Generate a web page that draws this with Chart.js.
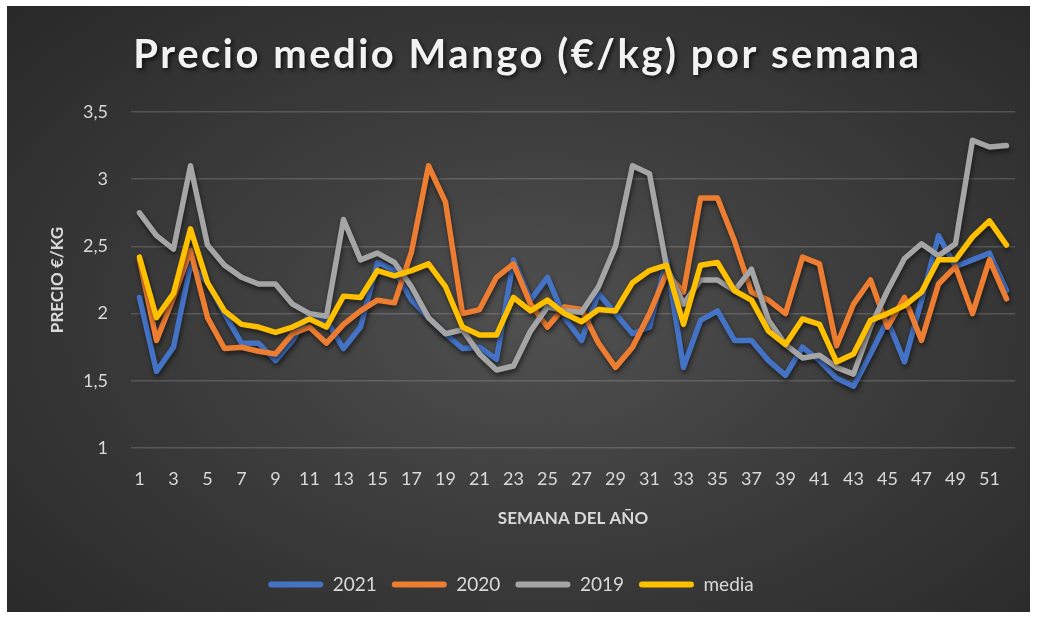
<!DOCTYPE html>
<html lang="es">
<head>
<meta charset="utf-8">
<title>Precio medio Mango</title>
<script src="https://cdn.jsdelivr.net/npm/chart.js@4/dist/chart.umd.min.js"></script>
<style>
  html, body { margin: 0; padding: 0; background: #ffffff; }
  #panel {
    position: absolute;
    left: 7px;
    top: 6px;
    width: 1023px;
    height: 606px;
    background: radial-gradient(ellipse 70% 75% at 52% 52%, #505050 0%, #3d3d3d 45%, #292929 100%);
  }
</style>
</head>
<body>
<div id="panel"><canvas id="mangoChart"></canvas></div>
<script>
// --- Datos ---
const titulo = 'Precio medio Mango (€/kg) por semana';
const semanas = ['1','2','3','4','5','6','7','8','9','10','11','12','13','14','15','16','17','18','19','20',
  '21','22','23','24','25','26','27','28','29','30','31','32','33','34','35','36','37','38','39','40',
  '41','42','43','44','45','46','47','48','49','50','51','52'];

const precios2021 = [2.12, 1.57, 1.75, 2.36, 2.23, 2.00, 1.78, 1.78, 1.65, 1.80, 2.00, 1.95, 1.74,
  1.90, 2.38, 2.32, 2.10, 1.97, 1.85, 1.74, 1.75, 1.66, 2.40, 2.10, 2.27, 1.97,
  1.80, 2.15, 2.00, 1.85, 1.90, 2.40, 1.60, 1.95, 2.02, 1.80, 1.80, 1.65, 1.54,
  1.75, 1.65, 1.52, 1.46, 1.70, 1.95, 1.64, 2.10, 2.58, 2.35, 2.40, 2.45, 2.17];

const precios2020 = [2.40, 1.80, 2.12, 2.47, 1.97, 1.74, 1.75, 1.72, 1.70, 1.85, 1.90, 1.78, 1.92,
  2.02, 2.10, 2.08, 2.46, 3.10, 2.83, 2.00, 2.03, 2.27, 2.37, 2.07, 1.90, 2.05,
  2.03, 1.78, 1.60, 1.75, 2.00, 2.30, 2.16, 2.86, 2.86, 2.54, 2.16, 2.10, 2.00,
  2.42, 2.37, 1.76, 2.07, 2.25, 1.90, 2.12, 1.80, 2.22, 2.35, 2.00, 2.40, 2.11];

const precios2019 = [2.75, 2.58, 2.48, 3.10, 2.51, 2.36, 2.27, 2.22, 2.22, 2.07, 2.00, 1.98, 2.70,
  2.40, 2.45, 2.38, 2.20, 1.97, 1.85, 1.88, 1.70, 1.58, 1.61, 1.87, 2.05, 2.02,
  2.01, 2.20, 2.50, 3.10, 3.04, 2.35, 2.07, 2.25, 2.25, 2.17, 2.33, 1.95, 1.77,
  1.67, 1.69, 1.60, 1.55, 1.90, 2.17, 2.41, 2.52, 2.43, 2.52, 3.29, 3.24, 3.25];

const preciosMedia = [2.42, 1.97, 2.15, 2.63, 2.23, 2.02, 1.92, 1.90, 1.86, 1.90, 1.96, 1.90, 2.13,
  2.12, 2.32, 2.28, 2.32, 2.37, 2.20, 1.90, 1.84, 1.84, 2.12, 2.02, 2.10, 2.00,
  1.94, 2.03, 2.02, 2.23, 2.32, 2.36, 1.92, 2.36, 2.38, 2.17, 2.10, 1.87, 1.77,
  1.96, 1.92, 1.64, 1.70, 1.95, 2.00, 2.06, 2.16, 2.40, 2.40, 2.57, 2.69, 2.51];

const textoEjes = '#d9d9d9';
const fuente = 'Lato, "Open Sans", sans-serif';

// titulo con espaciado de letras y sombra
const tituloPlugin = {
  id: 'tituloPlugin',
  afterDraw(chart) {
    const ctx = chart.ctx;
    ctx.save();
    ctx.font = 'bold 40px ' + fuente;
    ctx.letterSpacing = '2.5px';
    ctx.fillStyle = '#f2f2f2';
    ctx.textAlign = 'center';
    ctx.textBaseline = 'middle';
    ctx.shadowColor = 'rgba(0,0,0,0.7)';
    ctx.shadowBlur = 4;
    ctx.shadowOffsetX = 2;
    ctx.shadowOffsetY = 2;
    ctx.fillText(titulo, chart.width / 2 + 9, 49);
    ctx.restore();
  }
};

// sombra bajo las lineas, como en Excel
const sombraPlugin = {
  id: 'sombraPlugin',
  beforeDatasetDraw(chart) {
    const ctx = chart.ctx;
    ctx.save();
    ctx.shadowColor = 'rgba(0,0,0,0.55)';
    ctx.shadowBlur = 5;
    ctx.shadowOffsetX = 1;
    ctx.shadowOffsetY = 3;
  },
  afterDatasetDraw(chart) {
    chart.ctx.restore();
  }
};

function serie(label, data, color, orden) {
  return {
    label,
    data,
    borderColor: color,
    backgroundColor: color,
    borderWidth: 5.5,
    borderJoinStyle: 'round',
    borderCapStyle: 'round',
    pointRadius: 0,
    tension: 0,
    fill: false,
    order: orden
  };
}

const ctx = document.getElementById('mangoChart').getContext('2d');

new Chart(ctx, {
  type: 'line',
  data: {
    labels: semanas,
    datasets: [
      serie('2021', precios2021, '#4472C4', 3),
      serie('2020', precios2020, '#ED7D31', 2),
      serie('2019', precios2019, '#A5A5A5', 1),
      serie('media', preciosMedia, '#FFC000', 0)
    ]
  },
  options: {
    responsive: true,
    maintainAspectRatio: false,
    animation: false,
    layout: { padding: { top: 106, right: 15, bottom: 8, left: 0 } },
    plugins: {
      title: { display: false },
      tooltip: { enabled: false },
      legend: {
        position: 'bottom',
        labels: {
          color: textoEjes,
          font: { family: fuente, size: 19 },
          boxWidth: 55,
          boxHeight: 6,
          padding: 15,
          useBorderRadius: true,
          borderRadius: 3,
          sort: (a, b) => a.datasetIndex - b.datasetIndex,
          generateLabels(chart) {
            const items = Chart.defaults.plugins.legend.labels.generateLabels(chart);
            items.forEach(it => {
              it.fillStyle = chart.data.datasets[it.datasetIndex].borderColor;
              it.lineWidth = 0;
            });
            return items;
          }
        }
      }
    },
    scales: {
      x: {
        offset: true,
        grid: { display: false, drawTicks: false },
        border: { display: false },
        ticks: {
          color: textoEjes,
          font: { family: fuente, size: 18 },
          padding: 20,
          autoSkip: false,
          maxRotation: 0,
          minRotation: 0,
          callback: (v, i) => (i % 2 === 0 ? semanas[i] : null)
        },
        title: {
          display: true,
          text: 'SEMANA DEL AÑO',
          color: textoEjes,
          font: { family: fuente, size: 17, weight: 'bold' },
          padding: { top: 31, bottom: 31 }
        },
        afterFit(scale) { scale.height = 112; }
      },
      y: {
        min: 1,
        max: 3.5,
        grid: { color: 'rgba(255,255,255,0.16)', lineWidth: 1.5, drawTicks: false },
        border: { display: false },
        ticks: {
          stepSize: 0.5,
          color: textoEjes,
          font: { family: fuente, size: 18 },
          padding: 23,
          callback: v => String(v).replace('.', ',')
        },
        title: {
          display: true,
          text: 'PRECIO €/KG',
          color: textoEjes,
          font: { family: fuente, size: 17, weight: 'bold' },
          padding: { top: 40, bottom: 40 }
        },
        afterFit(scale) { scale.width = 124; }
      }
    }
  },
  plugins: [sombraPlugin, tituloPlugin]
});
</script>
</body>
</html>
